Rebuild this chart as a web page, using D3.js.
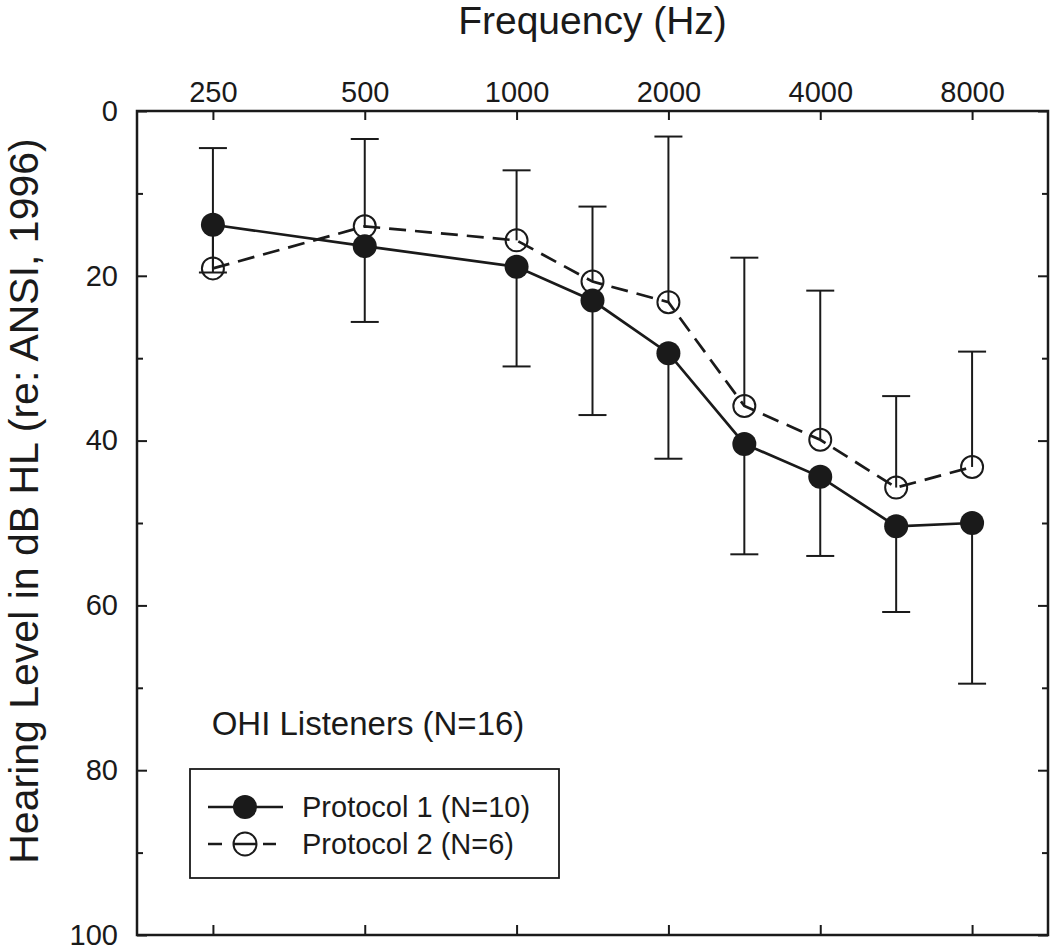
<!DOCTYPE html>
<html>
<head>
<meta charset="utf-8">
<script src="https://cdn.jsdelivr.net/npm/d3@7"></script>
<style>
  html, body { margin: 0; padding: 0; background: #fff; }
  svg { display: block; }
  text { font-family: "Liberation Sans", Arial, Helvetica, sans-serif; fill: #1a1a1a; }
</style>
</head>
<body>
<svg id="chart" width="1050" height="947"></svg>
<script>
// ---- data ----
const frequencies = [250, 500, 1000, 1500, 2000, 3000, 4000, 6000, 8000];
const tickFrequencies = [250, 500, 1000, 2000, 4000, 8000];
const yTicksMajor = [0, 20, 40, 60, 80, 100];
const yTicksMinor = [10, 30, 50, 70, 90];
const protocol1Mean = [13.8, 16.4, 18.9, 23.0, 29.4, 40.4, 44.4, 50.4, 50.0];
const protocol1BarEnd = [19.6, 25.6, 31.0, 36.9, 42.2, 53.8, 54.0, 60.8, 69.5];
const protocol2Mean = [19.1, 14.0, 15.7, 20.7, 23.2, 35.8, 39.9, 45.7, 43.2];
const protocol2BarEnd = [4.5, 3.4, 7.2, 11.6, 3.1, 17.8, 21.8, 34.6, 29.2];
const seriesNames = ["Protocol 1 (N=10)", "Protocol 2 (N=6)"];
const groupLabel = "OHI Listeners (N=16)";
const xTitle = "Frequency (Hz)";
const yTitle = "Hearing Level in dB HL (re: ANSI, 1996)";

// ---- layout ----
const L = 137, R = 1048, T = 111, B = 935;
const ink = "#1a1a1a";
const svg = d3.select("#chart");

// audiometric position: octaves above 250 Hz, snapped to half-octaves
const octPos = f => Math.round(2 * Math.log2(f / 250)) / 2;
const x = d3.scaleLinear().domain([-0.5, 5.5]).range([L, R]);
const y = d3.scaleLinear().domain([0, 100]).range([T, B]);
const fx = f => x(octPos(f));

// ---- axes ----
function clean(g) { g.select(".domain").remove(); g.selectAll("line").attr("stroke", ink).attr("stroke-width", 2); }

// top axis with labels
const topAx = svg.append("g").attr("transform", `translate(0,${T})`)
  .call(d3.axisTop(x).tickValues(tickFrequencies.map(octPos))
        .tickFormat((d, i) => tickFrequencies[i]).tickSizeInner(-9).tickSizeOuter(0).tickPadding(9));
clean(topAx);
topAx.selectAll("text").attr("font-size", 29).attr("fill", ink);

// bottom axis ticks only
const botAx = svg.append("g").attr("transform", `translate(0,${B})`)
  .call(d3.axisBottom(x).tickValues(tickFrequencies.map(octPos)).tickFormat("").tickSizeInner(-10).tickSizeOuter(0));
clean(botAx);

// left axis
const leftAx = svg.append("g").attr("transform", `translate(${L},0)`)
  .call(d3.axisLeft(y).tickValues(yTicksMajor).tickSizeInner(-10).tickSizeOuter(0).tickPadding(19));
clean(leftAx);
leftAx.selectAll("text").attr("font-size", 29).attr("fill", ink);
const leftMinor = svg.append("g").attr("transform", `translate(${L},0)`)
  .call(d3.axisLeft(y).tickValues(yTicksMinor).tickFormat("").tickSizeInner(-6).tickSizeOuter(0));
clean(leftMinor);

// right axis
const rightAx = svg.append("g").attr("transform", `translate(${R},0)`)
  .call(d3.axisRight(y).tickValues(yTicksMajor).tickFormat("").tickSizeInner(-10).tickSizeOuter(0));
clean(rightAx);
const rightMinor = svg.append("g").attr("transform", `translate(${R},0)`)
  .call(d3.axisRight(y).tickValues(yTicksMinor).tickFormat("").tickSizeInner(-6).tickSizeOuter(0));
clean(rightMinor);

// frame
svg.append("rect").attr("x", L).attr("y", T).attr("width", R - L).attr("height", B - T)
  .attr("fill", "none").attr("stroke", ink).attr("stroke-width", 2.5);

// titles
svg.append("text").attr("x", (L + R) / 2).attr("y", 34).attr("text-anchor", "middle")
  .attr("font-size", 39).text(xTitle);
svg.append("text").attr("transform", `translate(38,${(T + B) / 2 - 22}) rotate(-90)`)
  .attr("text-anchor", "middle").attr("font-size", 41).text(yTitle);

// ---- error bars ----
const capHalf = 14;
function errorBars(means, ends) {
  const g = svg.append("g").attr("stroke", ink).attr("stroke-width", 2);
  frequencies.forEach((f, i) => {
    g.append("line").attr("x1", fx(f)).attr("x2", fx(f)).attr("y1", y(means[i])).attr("y2", y(ends[i]));
    g.append("line").attr("x1", fx(f) - capHalf).attr("x2", fx(f) + capHalf).attr("y1", y(ends[i])).attr("y2", y(ends[i]));
  });
}
errorBars(protocol1Mean, protocol1BarEnd);
errorBars(protocol2Mean, protocol2BarEnd);

// ---- lines ----
const line = d3.line().x(d => fx(d[0])).y(d => y(d[1]));
svg.append("path").datum(frequencies.map((f, i) => [f, protocol2Mean[i]]))
  .attr("d", line).attr("fill", "none").attr("stroke", ink).attr("stroke-width", 2.7)
  .attr("stroke-dasharray", "17,9");
svg.append("path").datum(frequencies.map((f, i) => [f, protocol1Mean[i]]))
  .attr("d", line).attr("fill", "none").attr("stroke", ink).attr("stroke-width", 2.7);

// ---- markers ----
svg.append("g").selectAll("circle").data(frequencies).join("circle")
  .attr("cx", d => fx(d)).attr("cy", (d, i) => y(protocol2Mean[i])).attr("r", 11)
  .attr("fill", "none").attr("stroke", ink).attr("stroke-width", 2);
svg.append("g").selectAll("circle").data(frequencies).join("circle")
  .attr("cx", d => fx(d)).attr("cy", (d, i) => y(protocol1Mean[i])).attr("r", 12)
  .attr("fill", ink);

// ---- group label & legend ----
svg.append("text").attr("x", 368).attr("y", 735).attr("text-anchor", "middle")
  .attr("font-size", 33).text(groupLabel);

const lg = svg.append("g");
lg.append("rect").attr("x", 190).attr("y", 769).attr("width", 369).attr("height", 109)
  .attr("fill", "#fff").attr("stroke", ink).attr("stroke-width", 1.8);
// row 1
lg.append("line").attr("x1", 208).attr("x2", 283).attr("y1", 807).attr("y2", 807)
  .attr("stroke", ink).attr("stroke-width", 2.5);
lg.append("circle").attr("cx", 245).attr("cy", 807).attr("r", 12).attr("fill", ink);
lg.append("text").attr("x", 302).attr("y", 817).attr("font-size", 29).text(seriesNames[0]);
// row 2
[[208, 222], [234, 256], [263, 276]].forEach(s =>
  lg.append("line").attr("x1", s[0]).attr("x2", s[1]).attr("y1", 844).attr("y2", 844)
    .attr("stroke", ink).attr("stroke-width", 2.5));
lg.append("circle").attr("cx", 245).attr("cy", 844).attr("r", 11.5).attr("fill", "none")
  .attr("stroke", ink).attr("stroke-width", 2);
lg.append("text").attr("x", 302).attr("y", 854).attr("font-size", 29).text(seriesNames[1]);
</script>
</body>
</html>
